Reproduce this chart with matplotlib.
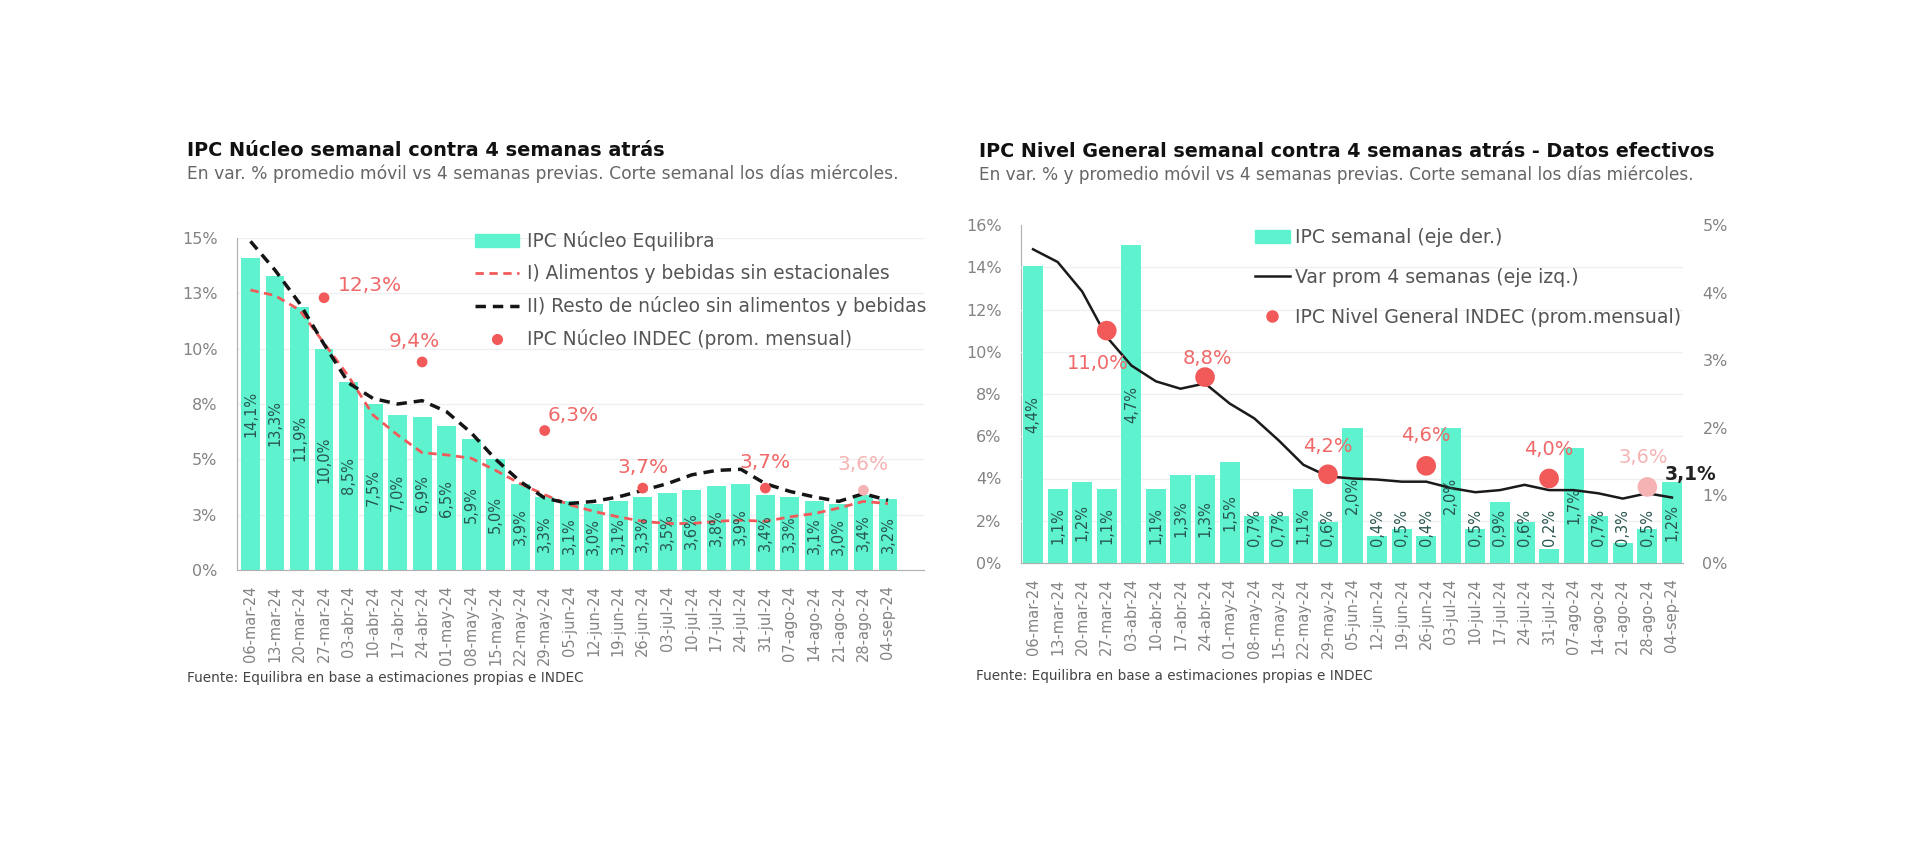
import numpy as np
import matplotlib
matplotlib.use("Agg")
import matplotlib.pyplot as plt
from matplotlib.lines import Line2D
from matplotlib.patches import Patch

plt.rcParams['font.family'] = ['DejaVu Sans']

# ---- data ----
semanas = ["06-mar-24", "13-mar-24", "20-mar-24", "27-mar-24", "03-abr-24", "10-abr-24",
           "17-abr-24", "24-abr-24", "01-may-24", "08-may-24", "15-may-24", "22-may-24",
           "29-may-24", "05-jun-24", "12-jun-24", "19-jun-24", "26-jun-24", "03-jul-24",
           "10-jul-24", "17-jul-24", "24-jul-24", "31-jul-24", "07-ago-24", "14-ago-24",
           "21-ago-24", "28-ago-24", "04-sep-24"]

# left chart: IPC nucleo
nucleo_equilibra = [14.1, 13.3, 11.9, 10.0, 8.5, 7.5, 7.0, 6.9, 6.5, 5.9, 5.0, 3.9, 3.3, 3.1,
                    3.0, 3.1, 3.3, 3.5, 3.6, 3.8, 3.9, 3.4, 3.3, 3.1, 3.0, 3.4, 3.2]
alimentos = [12.65, 12.4, 11.75, 10.25, 8.75, 7.0, 6.1, 5.3, 5.2, 5.05, 4.5, 3.9, 3.4, 2.95,
             2.65, 2.4, 2.2, 2.1, 2.1, 2.2, 2.25, 2.2, 2.4, 2.55, 2.8, 3.1, 3.0]
resto = [14.85, 13.55, 12.05, 10.2, 8.45, 7.75, 7.5, 7.65, 7.15, 6.2, 5.0, 4.0, 3.25, 3.0,
         3.1, 3.3, 3.6, 3.9, 4.3, 4.5, 4.55, 3.9, 3.55, 3.3, 3.1, 3.45, 3.15]
nucleo_indec_idx = [3, 7, 12, 16, 21, 25]
nucleo_indec = [12.3, 9.4, 6.3, 3.7, 3.7, 3.6]
nucleo_yticks = [0, 2.5, 5, 7.5, 10, 12.5, 15]
nucleo_yticklabels = ["0%", "3%", "5%", "8%", "10%", "13%", "15%"]

# right chart: IPC nivel general
ipc_semanal = [4.4, 1.1, 1.2, 1.1, 4.7, 1.1, 1.3, 1.3, 1.5, 0.7, 0.7, 1.1, 0.6, 2.0, 0.4,
               0.5, 0.4, 2.0, 0.5, 0.9, 0.6, 0.2, 1.7, 0.7, 0.3, 0.5, 1.2]
var_prom_4s = [14.85, 14.25, 12.85, 10.7, 9.35, 8.6, 8.25, 8.5, 7.55, 6.85, 5.8, 4.65, 4.1,
               4.0, 3.95, 3.85, 3.85, 3.55, 3.35, 3.45, 3.7, 3.45, 3.45, 3.3, 3.05, 3.3, 3.1]
ng_indec_idx = [3, 7, 12, 16, 21, 25]
ng_indec = [11.0, 8.8, 4.2, 4.6, 4.0, 3.6]

# ---- style ----
MINT = '#5ef2cf'
RED = '#f25a5a'
RED_TXT = '#f06868'
PINK = '#f6b3b3'
LBL = '#285650'
GRAY = '#838383'

def pct(v, d=1):
    return f"{v:.{d}f}".replace('.', ',') + '%'

fig = plt.figure(figsize=(19.2, 8.59), dpi=100)

# ================= left chart =================
ax = fig.add_axes([237/1920, 1-570/859, (924-237)/1920, (570-238)/859])
x = np.arange(len(semanas))
ax.bar(x, nucleo_equilibra, width=0.77, color=MINT, zorder=2)
for xi, v in zip(x, nucleo_equilibra):
    ax.text(xi, v/2, pct(v), rotation=90, ha='center', va='center',
            fontsize=10.5, color=LBL, zorder=4)
ax.plot(x, alimentos, color=RED, lw=2, dashes=(3, 2), zorder=3)
ax.plot(x, resto, color='#151515', lw=2.5, dashes=(3, 2), zorder=3)
cols = [RED]*(len(nucleo_indec)-1) + [PINK]
ax.scatter(nucleo_indec_idx, nucleo_indec, s=60, c=cols, zorder=5, linewidths=0)
offs = [(46, 12), (-8, 20), (28, 15), (0, 21), (0, 26), (0, 26)]
for i, (xi, v) in enumerate(zip(nucleo_indec_idx, nucleo_indec)):
    ax.annotate(pct(v), (xi, v), xytext=offs[i], textcoords='offset pixels',
                ha='center', va='center', fontsize=14.5,
                color=RED_TXT if i < len(nucleo_indec)-1 else PINK)
ax.set_xlim(-0.55, 27.47)
ax.set_ylim(0, 15)
ax.set_yticks(nucleo_yticks)
ax.set_yticklabels(nucleo_yticklabels)
ax.set_xticks(x)
ax.set_xticklabels(semanas, rotation=90)
ax.tick_params(axis='y', length=0, colors=GRAY, labelsize=11.5, pad=14)
ax.tick_params(axis='x', length=0, colors=GRAY, labelsize=10.5, pad=11)
ax.grid(axis='y', color='#efefef', lw=0.9)
ax.set_axisbelow(True)
for s in ['top', 'right']:
    ax.spines[s].set_visible(False)
for s in ['left', 'bottom']:
    ax.spines[s].set_color('#b0b0b0')

h1 = [Patch(color=MINT),
      Line2D([], [], color=RED, lw=2, dashes=(3, 2)),
      Line2D([], [], color='#151515', lw=2.5, dashes=(3, 2)),
      Line2D([], [], color=RED, marker='o', ms=7, ls='none')]
l1 = ["IPC Núcleo Equilibra", "I) Alimentos y bebidas sin estacionales",
      "II) Resto de núcleo sin alimentos y bebidas", "IPC Núcleo INDEC (prom. mensual)"]
fig.legend(h1, l1, loc='upper left', bbox_to_anchor=(475/1920, 1-231/859), frameon=False,
           fontsize=13.4, labelspacing=0.7, handlelength=2.37, handletextpad=0.4,
           borderpad=0, borderaxespad=0, labelcolor='#555555')

fig.text(187/1920, 1-156/859, "IPC Núcleo semanal contra 4 semanas atrás",
         fontsize=13.9, fontweight='bold', color='#111111', va='baseline')
fig.text(187/1920, 1-179/859,
         "En var. % promedio móvil vs 4 semanas previas. Corte semanal los días miércoles.",
         fontsize=12.3, color='#666666', va='baseline')
fig.text(187/1920, 1-678/859, "Fuente: Equilibra en base a estimaciones propias e INDEC",
         fontsize=9.8, color='#444444', va='center')

# ================= right chart =================
axl = fig.add_axes([1021/1920, 1-563/859, (1683-1021)/1920, (563-225)/859])
axr = axl.twinx()
axl.set_xlim(-0.49, 26.45)
axl.set_ylim(0, 16)
axr.set_ylim(0, 5)

# grid at left-axis ticks, drawn on the right (bar) axis below the bars
lt = np.arange(0, 17, 2)
axl.set_yticks(lt)
axl.set_yticklabels([f"{t}%" for t in lt])
axr.set_yticks(np.arange(0, 6))
axr.set_yticklabels([f"{t}%" for t in range(6)])
axr.set_yticks(lt*5/16, minor=True)
axr.grid(axis='y', which='minor', color='#efefef', lw=0.9)
axr.set_axisbelow(True)

axr.bar(x, ipc_semanal, width=0.82, color=MINT, zorder=2)
for xi, v in zip(x, ipc_semanal):
    axr.text(xi, max(v/2, 0.53), pct(v), rotation=90, ha='center', va='center',
             fontsize=10.5, color=LBL, zorder=4)
axr.plot(x, var_prom_4s, color='#1a1a1a', lw=1.8, zorder=3, transform=axl.transData)
cols = [RED]*(len(ng_indec)-1) + [PINK]
axr.scatter(ng_indec_idx, ng_indec, s=200, c=cols, zorder=5, linewidths=0,
            transform=axl.transData)
offs = [(-9, -33), (2, 19), (0, 28), (0, 30), (0, 29), (-4, 29)]
for i, (xi, v) in enumerate(zip(ng_indec_idx, ng_indec)):
    axr.annotate(pct(v), (xi, v), xycoords=axl.transData, xytext=offs[i],
                 textcoords='offset pixels', ha='center', va='center', fontsize=14,
                 color=RED_TXT if i < len(ng_indec)-1 else PINK, zorder=6)
axr.annotate(pct(var_prom_4s[-1]), (x[-1], var_prom_4s[-1]), xycoords=axl.transData,
             xytext=(19, 23), textcoords='offset pixels', ha='center', va='center',
             fontsize=13.5, fontweight='bold', color='#222222', zorder=6)

axl.set_xticks(x)
axl.set_xticklabels(semanas, rotation=90)
for a in (axl, axr):
    a.tick_params(axis='y', which='both', length=0, colors=GRAY, labelsize=11.5, pad=14)
    a.tick_params(axis='x', which='both', length=0, colors=GRAY, labelsize=10.5, pad=11)
    for s in ['top', 'right']:
        a.spines[s].set_visible(False)
    a.spines['left'].set_color('#b0b0b0')
    a.spines['bottom'].set_color('#b0b0b0')
axr.spines['left'].set_visible(False)

h2 = [Patch(color=MINT),
      Line2D([], [], color='#1a1a1a', lw=1.8),
      Line2D([], [], color=RED, marker='o', ms=8, ls='none')]
l2 = ["IPC semanal (eje der.)", "Var prom 4 semanas (eje izq.)",
      "IPC Nivel General INDEC (prom.mensual)"]
fig.legend(h2, l2, loc='upper left', bbox_to_anchor=(1255/1920, 1-228/859), frameon=False,
           fontsize=13.6, labelspacing=1.1, handlelength=1.85, handletextpad=0.25,
           borderpad=0, borderaxespad=0, labelcolor='#555555')

fig.text(979/1920, 1-157/859,
         "IPC Nivel General semanal contra 4 semanas atrás - Datos efectivos",
         fontsize=13.8, fontweight='bold', color='#111111', va='baseline')
fig.text(979/1920, 1-180/859,
         "En var. % y promedio móvil vs 4 semanas previas. Corte semanal los días miércoles.",
         fontsize=12.2, color='#666666', va='baseline')
fig.text(976/1920, 1-676/859, "Fuente: Equilibra en base a estimaciones propias e INDEC",
         fontsize=9.8, color='#444444', va='center')

fig.savefig("out.png", dpi=100, facecolor='white')
